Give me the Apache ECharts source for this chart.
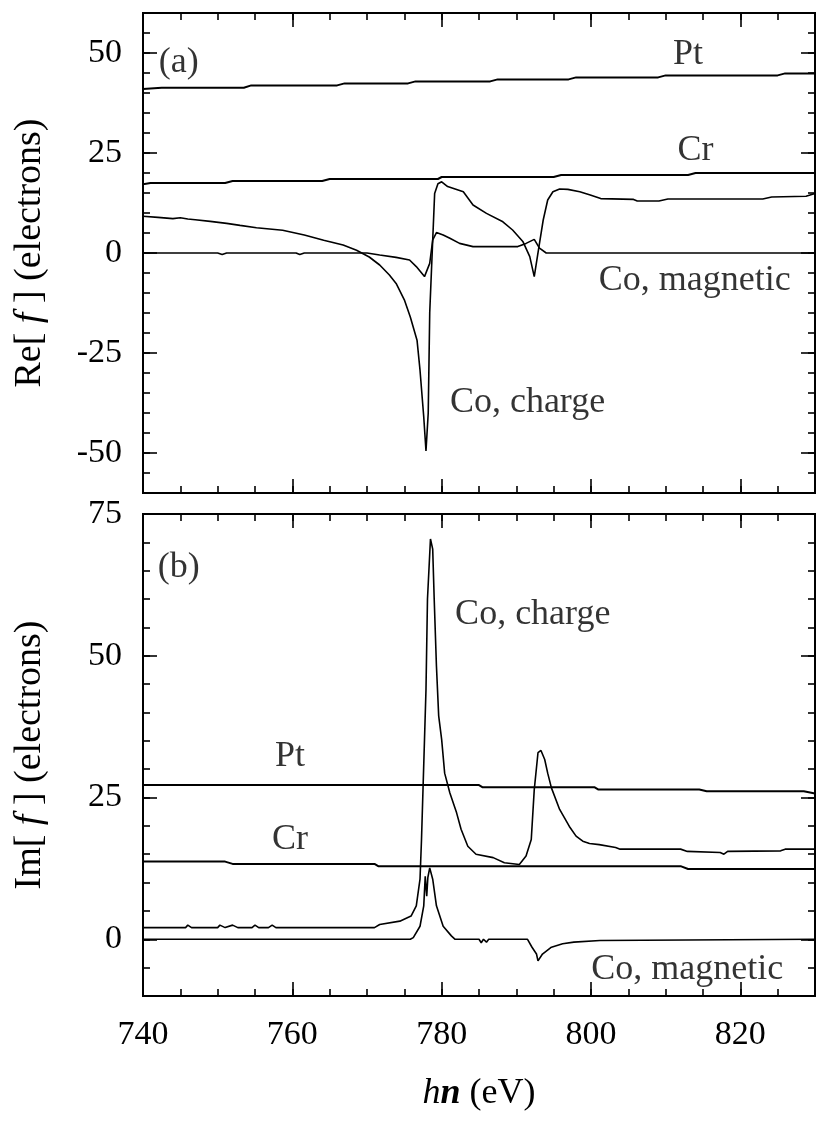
<!DOCTYPE html>
<html>
<head>
<meta charset="utf-8">
<script src="https://cdn.jsdelivr.net/npm/echarts@6/dist/echarts.min.js"></script>
<style>
html, body { margin: 0; padding: 0; background: #fff; }
#chart { width: 817px; height: 1131px; }
</style>
</head>
<body>
<div id="chart"></div>
<script>
// tick labels
const energyTicks = [740, 760, 780, 800, 820]
const reTicks = [-50, -25, 0, 25, 50]
const imTicks = [0, 25, 50, 75]

// (a) Re[f], electrons vs photon energy (eV)
const ptRe = [[740, 41.0], [742.5, 41.3], [753.5, 41.3], [754.5, 41.9], [766, 41.9], [767, 42.4], [775.5, 42.4], [776.5, 42.9], [786.5, 42.9], [787.5, 43.4], [797, 43.4], [798, 43.9], [809, 43.9], [810, 44.4], [825, 44.4], [826, 44.9], [830, 44.9]]
const crRe = [[740, 17.2], [741, 17.5], [751, 17.5], [752, 18.0], [764, 18.0], [765, 18.5], [779.5, 18.5], [780, 19.0], [795, 19.0], [796, 19.5], [813, 19.5], [814, 20.0], [830, 20.0]]
const coChargeRe = [[740, 9.2], [742, 8.9], [744, 8.6], [745, 8.8], [746, 8.5], [747, 8.3], [749, 7.9], [751.2, 7.4], [753, 6.9], [755.2, 6.3], [758.7, 5.7], [761.6, 4.5], [764.2, 3.2], [766.8, 2.0], [768.6, 0.7], [770.3, -1.0], [771.7, -3], [773, -5.5], [773.9, -7.6], [775, -11.7], [775.8, -16], [776.7, -21.8], [777.1, -29.3], [777.6, -41], [777.9, -49.5], [778.2, -40], [778.4, -15], [778.8, 3.2], [779.06, 14.9], [779.5, 17.3], [780, 17.8], [780.8, 16.6], [782.9, 15.3], [784.2, 12], [786, 9.9], [788.2, 7.8], [789.5, 5.75], [790.9, 2.8], [791.8, -0.9], [792.4, -5.9], [793.1, 2.4], [793.6, 8.25], [794.2, 13.25], [794.9, 15.3], [795.8, 16], [796.9, 15.9], [798.5, 15.3], [799.9, 14.5], [801.3, 13.6], [805.7, 13.4], [806.2, 13.0], [809.1, 13.0], [810.3, 13.5], [823, 13.5], [824.2, 14.0], [828.8, 14.2], [830, 14.9]]
const coMagRe = [[740, 0], [750, 0], [750.6, -0.4], [751.2, 0], [760.5, 0], [761, -0.4], [761.6, 0], [770, 0], [771.7, -0.5], [773.9, -1.1], [775.7, -1.75], [776.6, -3.4], [777.7, -5.9], [778.4, -2.6], [778.8, 3.25], [779.3, 5.1], [780.2, 4.5], [781.1, 3.7], [782.4, 2.4], [784.2, 1.6], [790.2, 1.6], [791.3, 2.4], [792.4, 3.4], [793.1, 1.2], [794, 0], [799.3, 0], [799.5, -0.3], [799.8, 0], [830, 0]]

// (b) Im[f]
const ptIm = [[740, 27.2], [785, 27.2], [785.5, 26.8], [800.5, 26.8], [801, 26.4], [814.5, 26.4], [815.5, 26.1], [828.5, 26.1], [830, 25.7]]
const crIm = [[740, 13.7], [751, 13.7], [752, 13.3], [771, 13.3], [771.5, 12.9], [812, 12.9], [813, 12.4], [830, 12.4]]
const coChargeIm = [[740, 2.06], [745.7, 2.06], [746, 2.5], [746.5, 2.06], [750, 2.06], [750.3, 2.5], [751, 2.06], [752, 2.5], [752.7, 2.06], [754.6, 2.06], [755, 2.5], [755.5, 2.06], [756.8, 2.06], [757.3, 2.5], [757.8, 2.06], [771, 2.06], [771.7, 2.6], [774.4, 3.2], [775.9, 4.1], [776.6, 5.9], [777.1, 10.6], [777.3, 17.6], [777.5, 26.4], [777.7, 35.2], [777.9, 44], [778.1, 60], [778.5, 70.6], [778.8, 68.8], [779, 60], [779.3, 48.2], [779.6, 39.4], [780, 35.2], [780.4, 29.3], [781.1, 25.8], [782, 22.3], [782.6, 19.4], [783.5, 16.4], [784.6, 15.0], [786.9, 14.4], [788.4, 13.5], [790.4, 13.2], [791.3, 14.7], [792, 17.6], [792.4, 26.4], [792.9, 32.9], [793.3, 33.3], [793.8, 31.7], [794.2, 29.3], [794.7, 26.7], [795.8, 22.9], [797.1, 19.9], [798, 18.2], [798.9, 17.3], [799.8, 16.9], [801.1, 16.7], [803.3, 16.2], [803.9, 15.9], [812, 15.9], [812.9, 15.5], [817.3, 15.3], [817.8, 15.0], [818.3, 15.5], [825.4, 15.6], [826, 15.9], [830, 15.9]]
const coMagIm = [[740, 0], [775.8, 0], [776.2, 0.3], [777.1, 2.3], [777.6, 5.9], [777.8, 11.1], [778, 7.6], [778.15, 10.9], [778.4, 12.6], [778.8, 10.6], [779.3, 5.9], [780.2, 2.3], [781.3, 0.6], [781.8, 0], [785, 0], [785.3, -0.6], [785.6, 0], [786, -0.5], [786.3, 0], [791.5, 0], [792.1, -1.4], [792.7, -2.6], [792.9, -3.8], [793.5, -2.6], [794.7, -1.4], [796.2, -0.8], [797.7, -0.5], [801.2, -0.2], [801.4, 0], [830, 0]]

// curve labels
const reNotes = [
  { name: '(a)', value: [744.8, 47.5] },
  { name: 'Pt', value: [813, 49.5] },
  { name: 'Cr', value: [814, 25.5] },
  { name: 'Co, magnetic', value: [813.9, -6.8] },
  { name: 'Co, charge', value: [791.5, -37.5] }
]
const imNotes = [
  { name: '(b)', value: [744.8, 65.5] },
  { name: 'Co, charge', value: [792.2, 57.3] },
  { name: 'Pt', value: [759.7, 32.2] },
  { name: 'Cr', value: [759.7, 17.6] },
  { name: 'Co, magnetic', value: [812.9, -5.3] }
]

const font = 'Liberation Serif'
const tickSize = 34
const noteSize = 36
const titleSize = 38

const steps = (a, b) => {
  const out = []
  for (let v = a; v <= b; v += 5) out.push(v)
  return out
}

const tick = (len, vals) => ({ show: true, inside: true, length: len, customValues: vals, lineStyle: { color: '#000', width: 1.6 } })

const xAxesFor = (grid, labels) => {
  const base = { type: 'value', gridIndex: grid, min: 740, max: 830, splitLine: { show: false }, axisLine: { show: false, onZero: false } }
  return [
    Object.assign({}, base, {
      position: 'bottom',
      axisTick: tick(14, energyTicks),
      axisLabel: labels ? { show: true, customValues: energyTicks, margin: 22, color: '#000', fontFamily: font, fontSize: tickSize } : { show: false },
      name: labels ? '{i|h}{b|n}{a| (eV)}' : '',
      nameLocation: 'middle',
      nameGap: 80,
      nameTextStyle: { rich: {
        i: { fontFamily: font, fontSize: 36, fontStyle: 'italic', color: '#000' },
        b: { fontFamily: font, fontSize: 36, fontStyle: 'italic', fontWeight: 'bold', color: '#000' },
        a: { fontFamily: font, fontSize: 36, color: '#000' }
      } }
    }),
    Object.assign({}, base, { position: 'bottom', axisTick: tick(7, steps(745, 825)), axisLabel: { show: false } }),
    Object.assign({}, base, { position: 'top', axisTick: tick(14, energyTicks), axisLabel: { show: false } }),
    Object.assign({}, base, { position: 'top', axisTick: tick(7, steps(745, 825)), axisLabel: { show: false } })
  ]
}

const yAxesFor = (grid, min, max, major, title) => {
  const base = { type: 'value', gridIndex: grid, min: min, max: max, splitLine: { show: false }, axisLine: { show: false, onZero: false } }
  const minor = steps(min + 5, max - 5)
  return [
    Object.assign({}, base, {
      position: 'left',
      axisTick: tick(14, major),
      axisLabel: { show: true, customValues: major, margin: 21, color: '#000', fontFamily: font, fontSize: tickSize },
      name: title,
      nameLocation: 'middle',
      nameGap: 94,
      nameTextStyle: { rich: {
        a: { fontFamily: font, fontSize: titleSize, color: '#000' },
        i: { fontFamily: font, fontSize: titleSize, fontStyle: 'italic', color: '#000' }
      } }
    }),
    Object.assign({}, base, { position: 'left', axisTick: tick(7, minor), axisLabel: { show: false } }),
    Object.assign({}, base, { position: 'right', axisTick: tick(14, major), axisLabel: { show: false } }),
    Object.assign({}, base, { position: 'right', axisTick: tick(7, minor), axisLabel: { show: false } })
  ]
}

const curve = (data, axis, width) => ({
  type: 'line',
  xAxisIndex: axis,
  yAxisIndex: axis,
  data: data,
  showSymbol: false,
  symbol: 'none',
  lineStyle: { color: '#000', width: width },
  z: 3
})

const notes = (data, axis) => ({
  type: 'scatter',
  xAxisIndex: axis,
  yAxisIndex: axis,
  symbolSize: 0,
  silent: true,
  data: data,
  label: { show: true, position: 'inside', formatter: '{b}', color: '#000', fontFamily: font, fontSize: noteSize }
})

const chart = echarts.init(document.getElementById('chart'))
const option = {
  animation: false,
  backgroundColor: '#fff',
  grid: [
    { left: 143, right: 2, top: 13, height: 480, show: true, borderColor: '#000', borderWidth: 2 },
    { left: 143, right: 2, top: 514, height: 482, show: true, borderColor: '#000', borderWidth: 2 }
  ],
  xAxis: [...xAxesFor(0, false), ...xAxesFor(1, true)],
  yAxis: [
    ...yAxesFor(0, -60, 60, reTicks, '{a|Re[}{i| f }{a|] (electrons)}'),
    ...yAxesFor(1, -10, 75, imTicks, '{a|Im[}{i| f }{a|] (electrons)}')
  ],
  series: [
    curve(ptRe, 0, 2),
    curve(crRe, 0, 2),
    curve(coChargeRe, 0, 1.6),
    curve(coMagRe, 0, 1.6),
    notes(reNotes, 0),
    curve(ptIm, 4, 2),
    curve(crIm, 4, 2),
    curve(coChargeIm, 4, 1.6),
    curve(coMagIm, 4, 1.6),
    notes(imNotes, 4)
  ]
}
chart.setOption(option)
</script>
</body>
</html>
